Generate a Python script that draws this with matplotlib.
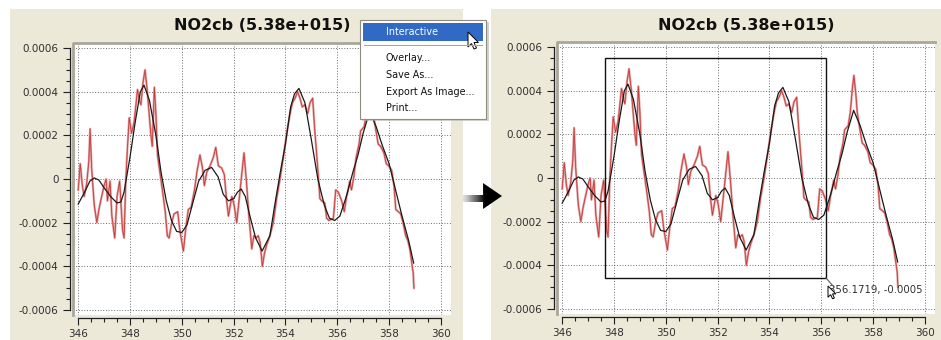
import matplotlib
matplotlib.use('Agg')
import matplotlib.pyplot as plt
import numpy as np
from matplotlib.patches import Rectangle, Polygon
from matplotlib.ticker import MultipleLocator

plt.rcParams['font.family'] = ['DejaVu Sans']

# ---------------- data ----------------
title = 'NO2cb (5.38e+015)'
x_ticks = [346, 348, 350, 352, 354, 356, 358, 360]
y_ticks = [-0.0006, -0.0004, -0.0002, 0.0, 0.0002, 0.0004, 0.0006]
y_tick_labels = ['-0.0006', '-0.0004', '-0.0002', '0', '0.0002', '0.0004', '0.0006']

red_x = [346.00, 346.08, 346.16, 346.23, 346.33, 346.41, 346.46, 346.52, 346.62, 346.72,
         346.80, 346.87, 347.00, 347.08, 347.13, 347.23, 347.30, 347.41, 347.50, 347.60,
         347.71, 347.77, 347.84, 347.90, 347.97, 348.06, 348.16, 348.29, 348.35, 348.42,
         348.50, 348.58, 348.67, 348.80, 348.86, 348.94, 349.00, 349.06, 349.25, 349.36,
         349.44, 349.51, 349.61, 349.70, 349.84, 349.93, 350.06, 350.15, 350.25, 350.36,
         350.49, 350.58, 350.70, 350.80, 350.87, 350.96, 351.09, 351.22, 351.31, 351.41,
         351.54, 351.64, 351.73, 351.80, 351.93, 352.02, 352.12, 352.25, 352.40, 352.50,
         352.59, 352.70, 352.78, 352.86, 352.95, 353.02, 353.11, 353.19, 353.28, 353.40,
         353.53, 353.66, 353.79, 353.92, 354.05, 354.18, 354.27, 354.37, 354.47, 354.56,
         354.65, 354.75, 354.86, 354.95, 355.05, 355.14, 355.24, 355.33, 355.40, 355.52,
         355.59, 355.68, 355.85, 355.94, 356.04, 356.17, 356.27, 356.36, 356.42, 356.48,
         356.55, 356.64, 356.73, 356.84, 356.90, 356.97, 357.04, 357.12, 357.20, 357.26,
         357.33, 357.39, 357.48, 357.58, 357.67, 357.80, 357.89, 357.99, 358.10, 358.19,
         358.26, 358.36, 358.45, 358.54, 358.64, 358.72, 358.80, 358.87, 358.93, 358.96]
red_y = [-0.00005, 0.00007, -0.00003, -0.00008, -0.00002, 0.00008, 0.00023, 0.00005, -0.00012, -0.00020,
         -0.00014, -0.00010, -0.00003, 0.00000, -0.00010, -0.00001, -0.00017, -0.00027, -0.00008, -0.00001,
         -0.00023, -0.00027, 0.00000, 0.00014, 0.00028, 0.00021, 0.00026, 0.00041, 0.00037, 0.00034,
         0.00044, 0.00050, 0.00040, 0.00021, 0.00015, 0.00042, 0.00030, 0.00011, -0.00005, -0.00015,
         -0.00026, -0.00027, -0.00020, -0.00016, -0.00015, -0.00024, -0.00033, -0.00023, -0.00014, -0.00013,
         -0.00005, 0.00003, 0.00011, 0.00005, -0.00003, 0.00003, 0.00006, 0.00010, 0.000145, 0.00006,
         0.00005, 0.00002, -0.00010, -0.00017, -0.00008, -0.00012, -0.00020, -0.00005, 0.00012, -0.00002,
         -0.00017, -0.00032, -0.00026, -0.00027, -0.00026, -0.00029, -0.00040, -0.00034, -0.00030, -0.00026,
         -0.00020, -0.00009, 0.00000, 0.00010, 0.00021, 0.00030, 0.00035, 0.00037, 0.00040, 0.00037,
         0.00033, 0.00034, 0.00030, 0.00035, 0.00037, 0.00021, 0.00006, -0.00009, -0.00010, -0.00011,
         -0.00018, -0.00019, -0.00018, -0.00005, -0.00006, -0.00010, -0.00015, -0.00008, -0.00005, -0.00001,
         -0.00005, 0.00001, 0.00010, 0.00016, 0.00022, 0.00023, 0.00024, 0.00030, 0.00041, 0.00047,
         0.00039, 0.00030, 0.00023, 0.00016, 0.00015, 0.00012, 0.00007, 0.00006, 0.00004, -0.00003,
         -0.00014, -0.00015, -0.00016, -0.00020, -0.00026, -0.00028, -0.00032, -0.00038, -0.00043, -0.00050]

black_x = [346.00, 346.25, 346.45, 346.62, 346.80, 347.00, 347.25, 347.50, 347.65, 347.77,
           348.00, 348.20, 348.40, 348.54, 348.75, 349.00, 349.20, 349.40, 349.60, 349.80,
           350.00, 350.20, 350.40, 350.65, 350.90, 351.15, 351.40, 351.60, 351.80, 352.00,
           352.15, 352.29, 352.45, 352.65, 352.85, 353.10, 353.40, 353.60, 353.80, 354.00,
           354.20, 354.35, 354.52, 354.75, 355.00, 355.25, 355.50, 355.70, 355.90, 356.10,
           356.35, 356.60, 356.80, 357.00, 357.25, 357.50, 357.75, 358.00, 358.25, 358.50,
           358.75, 358.95]
black_y = [-0.000115, -0.00006, -0.00001, 0.000005, -0.000005, -0.00004, -0.00008, -0.00011, -0.000105, -0.00006,
           0.00010, 0.00026, 0.00040, 0.00043, 0.00036, 0.00020, 0.00003, -0.00010, -0.00019, -0.00024,
           -0.000245, -0.00021, -0.00012, -0.00001, 0.00004, 0.000053, 0.00001, -0.00007, -0.00010, -0.00009,
           -0.00006, -0.000046, -0.00008, -0.00018, -0.00027, -0.00033, -0.00026, -0.00011, 0.00003, 0.00016,
           0.00033, 0.00039, 0.000415, 0.00035, 0.00018, 0.00000, -0.00012, -0.00018, -0.00019, -0.00017,
           -0.00008, 0.00003, 0.00011, 0.00021, 0.00031, 0.00024, 0.00015, 0.00007, -0.00005, -0.00017,
           -0.00028, -0.000385]

zoom_box = (347.65, -0.00046, 356.17, 0.00055)   # x0, y0, x1, y1
cursor_label = '356.1719, -0.0005'
cursor_pos = (356.30, -0.000514)
menu_items = ['Interactive', 'Overlay...', 'Save As...', 'Export As Image...', 'Print...']

# ---------------- figure ----------------
W, H = 941, 340
fig = plt.figure(figsize=(W / 100, H / 100), dpi=100)
fig.patch.set_facecolor('white')


def px_axes(x0, y0, x1, y1, **kw):
    return fig.add_axes([x0 / W, 1 - y1 / H, (x1 - x0) / W, (y1 - y0) / H], **kw)


BEIGE = '#ECE9D8'
bg = px_axes(0, 0, W, H, zorder=-10)
bg.set_xlim(0, W)
bg.set_ylim(H, 0)
bg.axis('off')
bg.add_patch(Rectangle((10, 9), 453, 335, fc=BEIGE, ec='none'))
bg.add_patch(Rectangle((491, 9), 455, 335, fc=BEIGE, ec='none'))


def make_panel(x0, y0, x1, y1):
    ax = px_axes(x0, y0, x1, y1, zorder=1)
    ax.set_facecolor('white')
    ax.set_xlim(345.8, 360.39)
    ax.set_ylim(-0.000623, 0.000623)
    ax.plot(red_x, red_y, color='#e09a9a', lw=1.6, solid_joinstyle='round', zorder=3)
    ax.plot(red_x, red_y, color='#c42424', lw=0.55, alpha=0.85, zorder=4)
    ax.plot(black_x, black_y, color='#1a1a1a', lw=0.9, zorder=5)
    ax.set_xticks(x_ticks)
    ax.set_xticklabels([str(v) for v in x_ticks])
    ax.set_yticks(y_ticks)
    ax.set_yticklabels(y_tick_labels)
    ax.xaxis.set_minor_locator(MultipleLocator(0.5))
    ax.yaxis.set_minor_locator(MultipleLocator(0.00005))
    ax.grid(True, which='major', ls=(0, (1, 2)), color='#555555', lw=0.65, zorder=1)
    for s in ['top', 'right']:
        ax.spines[s].set_visible(False)
    ax.spines['left'].set_position(('outward', 2.3))
    ax.spines['bottom'].set_position(('outward', 2.3))
    ax.spines['left'].set_bounds(-0.0006, 0.0006)
    ax.spines['bottom'].set_bounds(346, 360)
    for s in ['left', 'bottom']:
        ax.spines[s].set_linewidth(0.9)
        ax.spines[s].set_color('#202020')
    ax.tick_params(which='major', direction='out', length=5, width=0.8, color='#202020',
                   labelsize=7.5, labelcolor='#303030', pad=3)
    ax.tick_params(which='minor', direction='out', length=3, width=0.8, color='#202020')
    ax.tick_params(axis='x', which='major', pad=2.5)
    # sunken frame on top / left of the plot area
    ax.plot([0, 0, 1], [0, 1, 1], transform=ax.transAxes, color='#a9a79a', lw=2.0,
            clip_on=False, zorder=6)
    ax.text(0.5, 1 + 17 / 272, title, transform=ax.transAxes, ha='center', va='center',
            fontsize=11.5, fontweight='bold', color='#111111')
    return ax


ax1 = make_panel(73, 43, 451, 315)
ax2 = make_panel(557, 42, 935, 314)

# zoom box and cursor read-out on the right panel
bx0, by0, bx1, by1 = zoom_box
ax2.add_patch(Rectangle((bx0, by0), bx1 - bx0, by1 - by0, fill=False, ec='#111111', lw=1.0,
                        zorder=7, clip_on=False))
ax2.text(cursor_pos[0], cursor_pos[1], cursor_label, fontsize=7.3, color='#303030',
         va='center', ha='left', zorder=8)

# ---------------- overlay: menu, arrow, cursors ----------------
fg = px_axes(0, 0, W, H, zorder=20)
fg.set_facecolor('none')
fg.axis('off')

# arrow between panels with gradient shaft
arrow_pts = [(463, 195), (483, 195), (483, 183), (502, 196), (483, 209), (483, 202), (463, 202)]
arrow = Polygon(arrow_pts, closed=True, fc='none', ec='none')
fg.add_patch(arrow)
grad = np.clip((np.linspace(463, 502, 80) - 463) / 22.0, 0, 1)
grad = np.tile(grad, (10, 1))
im = fg.imshow(grad, cmap='Greys', vmin=-0.25, vmax=1.0, extent=(463, 502, 209, 183),
               aspect='auto', interpolation='bilinear')
im.set_clip_path(arrow)

# context menu
fg.add_patch(Rectangle((362, 22), 127, 99, fc='#b8b6aa', ec='none', alpha=0.6))
fg.add_patch(Rectangle((360, 20), 126, 99, fc='white', ec='#8f8d82', lw=0.8))
fg.add_patch(Rectangle((363, 23), 120, 18, fc='#316AC5', ec='none'))
fg.plot([364, 482], [45, 45], color='#aca899', lw=0.8)
menu_y = [32, 58, 75, 92, 108]
for i, (lab, yy) in enumerate(zip(menu_items, menu_y)):
    fg.text(386, yy, lab, fontsize=6.9, va='center', ha='left',
            color='white' if i == 0 else '#111111')


def cursor(x, y, s=1.0):
    pts = [(0, 0), (0, 15), (3.5, 11.5), (6, 17), (8.5, 16), (6, 10.5), (10.5, 10.5)]
    fg.add_patch(Polygon([(x + s * a, y + s * b) for a, b in pts], closed=True,
                         fc='white', ec='black', lw=0.7))


cursor(468, 32, 1.0)
fg.plot([826, 834], [278, 287], color='#606060', lw=0.8)
cursor(828, 286, 0.75)

fg.set_xlim(0, W)
fg.set_ylim(H, 0)

fig.savefig('out.png', dpi=100, facecolor='white')
